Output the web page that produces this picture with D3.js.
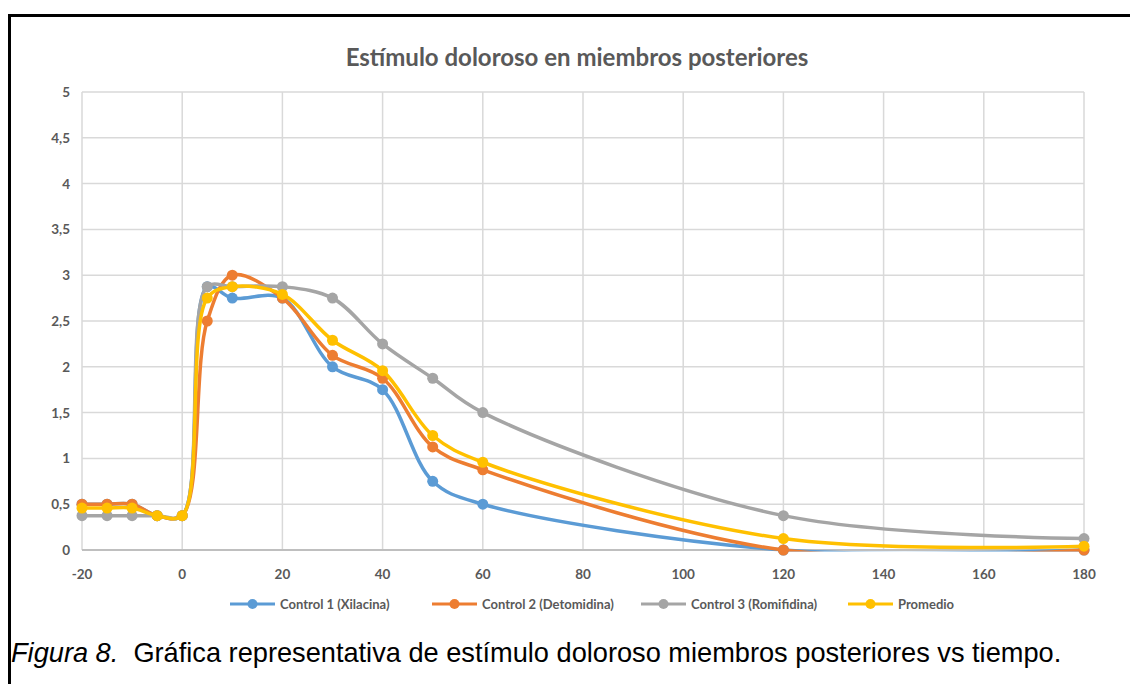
<!DOCTYPE html>
<html>
<head>
<meta charset="utf-8">
<script src="https://cdn.jsdelivr.net/npm/d3@7"></script>
<style>
  body { margin: 0; background: #fff; }
  svg { display: block; }
  .tick-label { font-family: Lato, "Open Sans", sans-serif; font-weight: bold; font-size: 13.5px; fill: #595959; }
</style>
</head>
<body>
<svg id="chart" width="1130" height="684"></svg>
<script>
// --- data ---
const times = [-20, -15, -10, -5, 0, 5, 10, 20, 30, 40, 50, 60, 120, 180];
const control1 = [0.5, 0.5, 0.5, 0.375, 0.375, 2.875, 2.75, 2.75, 2.0, 1.75, 0.75, 0.5, 0, 0];
const control2 = [0.5, 0.5, 0.5, 0.375, 0.375, 2.5, 3.0, 2.75, 2.125, 1.875, 1.125, 0.875, 0, 0];
const control3 = [0.375, 0.375, 0.375, 0.375, 0.375, 2.875, 2.875, 2.875, 2.75, 2.25, 1.875, 1.5, 0.375, 0.125];
const promedio = [0.458, 0.458, 0.458, 0.375, 0.375, 2.75, 2.875, 2.79, 2.29, 1.958, 1.25, 0.958, 0.125, 0.042];

const seriesNames = ["Control 1 (Xilacina)", "Control 2 (Detomidina)", "Control 3 (Romifidina)", "Promedio"];
const seriesValues = [control1, control2, control3, promedio];
const colors = ["#5B9BD5", "#ED7D31", "#A5A5A5", "#FFC000"];

const xTicks = [-20, 0, 20, 40, 60, 80, 100, 120, 140, 160, 180];
const yTicks = [0, 0.5, 1, 1.5, 2, 2.5, 3, 3.5, 4, 4.5, 5];

const svg = d3.select("#chart");
const plotLeft = 82, plotRight = 1084, plotTop = 92, plotBottom = 550;

const x = d3.scaleLinear().domain([-20, 180]).range([plotLeft, plotRight]);
const y = d3.scaleLinear().domain([0, 5]).range([plotBottom, plotTop]);

// clip the smoothed lines to the plot area, like the spreadsheet does
svg.append("clipPath").attr("id", "plotClip")
  .append("rect")
  .attr("x", plotLeft - 10).attr("y", plotTop - 10)
  .attr("width", plotRight - plotLeft + 20)
  .attr("height", plotBottom - plotTop + 11.5);

// outer frame (left + top only)
svg.append("path")
  .attr("d", `M9.5,684 L9.5,15.5 L1130,15.5`)
  .attr("fill", "none").attr("stroke", "#000").attr("stroke-width", 3);

// title
svg.append("text")
  .attr("x", 577).attr("y", 66)
  .attr("text-anchor", "middle")
  .style("font-family", "Lato, 'Open Sans', sans-serif")
  .style("font-weight", "bold").style("font-size", "24px")
  .attr("fill", "#595959")
  .text("Estímulo doloroso en miembros posteriores");

// grid
svg.append("g").selectAll("line")
  .data(yTicks.filter(d => d > 0))
  .join("line")
  .attr("x1", plotLeft).attr("x2", plotRight)
  .attr("y1", d => y(d)).attr("y2", d => y(d))
  .attr("stroke", "#d9d9d9").attr("stroke-width", 1.5);

svg.append("g").selectAll("line")
  .data(xTicks)
  .join("line")
  .attr("x1", d => x(d)).attr("x2", d => x(d))
  .attr("y1", plotTop).attr("y2", plotBottom)
  .attr("stroke", "#d9d9d9").attr("stroke-width", 1.5);

// bottom axis line
svg.append("line")
  .attr("x1", plotLeft).attr("x2", plotRight)
  .attr("y1", plotBottom).attr("y2", plotBottom)
  .attr("stroke", "#bfbfbf").attr("stroke-width", 2);

const fmt = d => String(d).replace(".", ",");

svg.append("g").selectAll("text")
  .data(yTicks)
  .join("text")
  .attr("class", "tick-label")
  .attr("x", 70).attr("y", d => y(d) + 5)
  .attr("text-anchor", "end")
  .text(fmt);

svg.append("g").selectAll("text")
  .data(xTicks)
  .join("text")
  .attr("class", "tick-label")
  .attr("x", d => x(d)).attr("y", 579)
  .attr("text-anchor", "middle")
  .text(fmt);

// lines (smoothed like the spreadsheet's "smoothed line" option)
const line = d3.line()
  .x((d, i) => x(times[i]))
  .y(d => y(d))
  .curve(d3.curveCatmullRom.alpha(0.5));

seriesValues.forEach((vals, s) => {
  const g = svg.append("g");
  g.append("path")
    .attr("d", line(vals))
    .attr("clip-path", "url(#plotClip)")
    .attr("fill", "none")
    .attr("stroke", colors[s])
    .attr("stroke-width", 3.5)
    .attr("stroke-linejoin", "round");
  g.selectAll("circle")
    .data(vals)
    .join("circle")
    .attr("cx", (d, i) => x(times[i]))
    .attr("cy", d => y(d))
    .attr("r", 5.5)
    .attr("fill", colors[s]);
});

// legend
const legendX = [230, 432, 641, 848];
const lg = svg.append("g").selectAll("g")
  .data(seriesNames)
  .join("g")
  .attr("transform", (d, i) => `translate(${legendX[i]},604)`);
lg.append("line")
  .attr("x1", 0).attr("x2", 45)
  .attr("stroke", (d, i) => colors[i]).attr("stroke-width", 3);
lg.append("circle")
  .attr("cx", 22.5).attr("r", 5)
  .attr("fill", (d, i) => colors[i]);
lg.append("text")
  .attr("x", 50).attr("y", 4.5)
  .style("font-family", "Lato, 'Open Sans', sans-serif")
  .style("font-weight", "bold").style("font-size", "13px")
  .attr("fill", "#595959")
  .text(d => d);

// caption
const cap = svg.append("text")
  .attr("x", 11).attr("y", 662)
  .style("font-family", "'Liberation Sans', Arial, sans-serif")
  .style("font-size", "27.2px")
  .attr("fill", "#000");
cap.append("tspan").style("font-style", "italic").text("Figura 8.");
cap.append("tspan").attr("xml:space", "preserve").text("  Gráfica representativa de estímulo doloroso miembros posteriores vs tiempo.");
</script>
</body>
</html>
